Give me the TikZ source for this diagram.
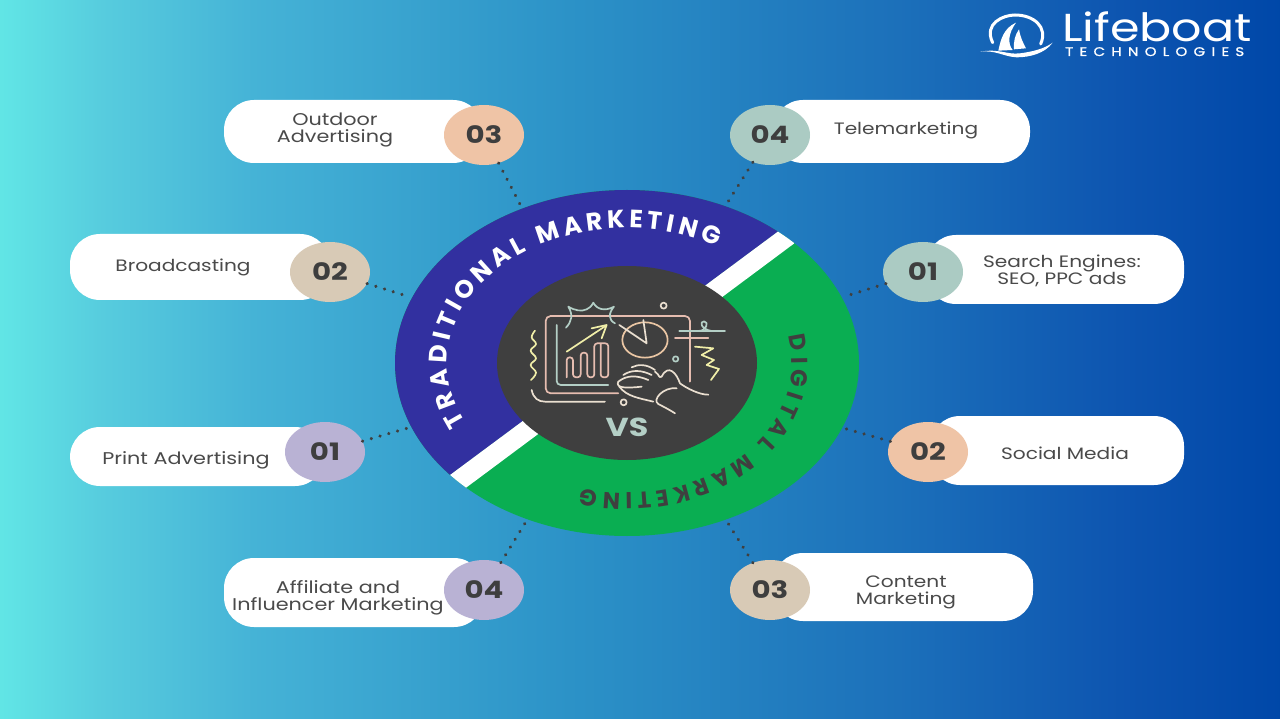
\documentclass[tikz,border=0pt]{standalone}
\usepackage{fontspec}
\usetikzlibrary{shapes.geometric,decorations.text}
\setmainfont[FakeStretch=1.22]{Poppins}
\newfontfamily\logofont[FakeStretch=1.22]{Poppins}
\newfontfamily\logosub[FakeStretch=1.2,LetterSpace=50,FakeBold=1]{Poppins}
\newfontfamily\ringfont[FakeStretch=1.0]{Poppins}
\definecolor{ringblue}{HTML}{3230A0}
\definecolor{ringgreen}{HTML}{0AAE52}
\definecolor{hubgray}{HTML}{3F3F3F}
\definecolor{numtxt}{HTML}{3E3E3E}
\definecolor{lbltxt}{HTML}{4A4A4A}
\definecolor{cpeach}{HTML}{EFC4A6}
\definecolor{ctan}{HTML}{D8CAB6}
\definecolor{cpurple}{HTML}{B9B2D4}
\definecolor{cgreen}{HTML}{ABCBC3}
\definecolor{icpink}{HTML}{E6BDB0}
\definecolor{icgreen}{HTML}{B4CFC6}
\definecolor{icyellow}{HTML}{F0EEA8}
\definecolor{iccream}{HTML}{EADFD0}
\definecolor{icpeach}{HTML}{EAC6A4}
\pgfdeclarehorizontalshading{bgshade}{100bp}{
  rgb(0bp)=(0.38,0.90,0.90);
  rgb(25bp)=(0.38,0.90,0.90);
  rgb(29bp)=(0.34,0.80,0.87);
  rgb(35bp)=(0.27,0.70,0.84);
  rgb(47.5bp)=(0.17,0.57,0.78);
  rgb(60bp)=(0.11,0.44,0.73);
  rgb(69bp)=(0.05,0.33,0.69);
  rgb(75bp)=(0.00,0.28,0.66);
  rgb(100bp)=(0.00,0.28,0.66)}
\tikzset{
  pill/.style={fill=white,rounded corners=30pt},
  lbl/.style={text=lbltxt,font=\fontsize{16.5}{17}\selectfont,align=center,inner sep=0pt},
  lblwide/.style={lbl,font=\fontsize{17}{17}\selectfont},
  num/.style={ellipse,minimum width=80pt,minimum height=60pt,inner sep=0pt,text=numtxt,font=\fontsize{24}{24}\selectfont\bfseries},
  link/.style={draw=hubgray,line width=3.4pt,line cap=round,dash pattern=on 0.1pt off 9pt},
  ic/.style={line width=1.7pt,line cap=round,line join=round}
}
\begin{document}
\begin{tikzpicture}[x=1pt,y=-1pt]
\useasboundingbox (0,0) rectangle (1280,719);
\shade[shading=bgshade] (0,0) rectangle (1280,719);

% ring
\coordinate (hub) at (627,363);
\begin{scope}
  \clip (hub) ellipse [x radius=232pt,y radius=173pt];
  \fill[ringgreen] (390,180) rectangle (870,550);
  \fill[ringblue] (380,170) -- (880,170) -- (796.5,217.8) -- (433.5,487.3) -- (380,540) -- cycle;
  \fill[white] (433.5,487.3) -- (796.5,217.8) -- (812.5,229.8) -- (450.5,499.3) -- cycle;
\end{scope}
\node[ellipse,fill=hubgray,minimum width=260pt,minimum height=194pt,inner sep=0pt] (center) at (hub) {};

% ring texts
\path[postaction={decorate,decoration={text along path,text align={fit to path},
  text={|\ringfont\bfseries\fontsize{25}{25}\selectfont\color{white}|TRADITIONAL MARKETING}}}]
  plot[domain=206:60,samples=80] ({627+180*cos(\x)},{363-135*sin(\x)});
\path[postaction={decorate,decoration={text along path,text align={fit to path},
  text={|\ringfont\bfseries\fontsize{23}{23}\selectfont\color{hubgray}|DIGITAL MARKETING}}}]
  plot[domain=-12:106,samples=80] ({627+165*cos(\x)},{363+130*sin(\x)});

% pills
\fill[pill] (224,100) rectangle (483,163);
\fill[pill] (70,234) rectangle (330,300);
\fill[pill] (70,427) rectangle (325,486);
\fill[pill] (224,558) rectangle (484,627);
\fill[pill] (773,100) rectangle (1030,163);
\fill[pill] (926,235) rectangle (1184,304);
\fill[pill] (930,416) rectangle (1184,485);
\fill[pill] (773,553) rectangle (1033,621);

% labels
\node[lblwide] (t1) at (335,130) {Outdoor\\Advertising};
\node[lbl] (t2) at (183,267) {Broadcasting};
\node[lblwide] (t3) at (186,460) {Print Advertising};
\node[lblwide] (t4) at (338,598) {Affiliate and\\Influencer Marketing};
\node[lbl] (t5) at (906,130) {Telemarketing};
\node[lbl] (t6) at (1062,271) {Search Engines:\\SEO, PPC ads};
\node[lbl] (t7) at (1065,453) {Social Media};
\node[lbl] (t8) at (906,592) {Content\\Marketing};

% number circles
\node[num,fill=cpeach] (n1) at (484,135) {03};
\node[num,fill=ctan] (n2) at (330,272) {02};
\node[num,fill=cpurple] (n3) at (325,452) {01};
\node[num,fill=cpurple] (n4) at (484,590) {04};
\node[num,fill=cgreen] (n5) at (770,135) {04};
\node[num,fill=cgreen] (n6) at (923,272) {01};
\node[num,fill=cpeach] (n7) at (928,452) {02};
\node[num,fill=ctan] (n8) at (770,590) {03};

% ring anchors and dotted connectors
\coordinate (r1) at (522,208);
\coordinate (r2) at (410,297);
\coordinate (r3) at (408,428);
\coordinate (r4) at (527,520);
\coordinate (r5) at (726,205);
\coordinate (r6) at (843,297);
\coordinate (r7) at (843,428);
\coordinate (r8) at (726,520);
\foreach \i in {1,...,8}{\draw[link] (n\i) -- (r\i);}

% VS
\node[text=icgreen,font=\fontsize{26}{26}\selectfont\bfseries,inner sep=0pt] (vs) at (627,427) {VS};

% icon
\begin{scope}[shift={(480,260)},x=0.3333pt,y=-0.3333pt,ic]
  \draw[icpink,rounded corners=5pt] (630,365) -- (630,168) -- (197,168) -- (197,400) -- (415,400);
  \draw[icgreen,rounded corners=4pt] (230,195) -- (230,375) -- (385,375);
  \draw[icpink,rounded corners=3pt] (260,352) -- (260,292) -- (279,292) -- (279,352) -- (302,352) -- (302,278) -- (322,278) -- (322,352) -- (343,352) -- (343,250) -- (385,250) -- (385,352) -- (362,352) -- (362,252);
  \draw[icyellow] (260,275) -- (378,197);
  \draw[icyellow] (335,205) -- (380,195) -- (365,235);
  \draw[icyellow] plot[smooth,tension=.7] coordinates {(165,212) (155,232) (168,252) (152,272) (168,295) (152,315) (168,338) (153,360)};
  \draw[icgreen] (258,203) .. controls (275,185) and (280,165) .. (265,140) .. controls (285,152) and (305,155) .. (320,148) .. controls (328,145) and (335,138) .. (340,128) .. controls (350,148) and (375,155) .. (402,140) .. controls (385,160) and (385,180) .. (405,190);
  \draw[icpeach] (495,240) ellipse [x radius=68,y radius=53];
  \draw[iccream] (418,195) -- (500,250) -- (490,180);
  \draw[iccream] (551,137) circle [radius=9];
  \draw[icgreen] (587,297) circle [radius=8];
  \draw[iccream] (431,427) circle [radius=9];
  \draw[icgreen] (598,213) -- (735,213);
  \draw[icgreen] (655,213) .. controls (680,213) and (688,185) .. (672,184) .. controls (658,184) and (662,208) .. (695,213);
  \draw[icpink] (585,235) -- (685,235);
  \draw[icyellow] (645,260) -- (700,265) -- (665,285) -- (702,300) -- (680,315) -- (717,327) -- (693,360);
  \draw[iccream] (455,322) .. controls (475,312) and (500,312) .. (525,330);
  \draw[iccream] (430,345) .. controls (455,328) and (485,330) .. (515,345);
  \draw[iccream] (415,365) .. controls (440,345) and (470,345) .. (505,360);
  \draw[iccream] (415,365) .. controls (405,385) and (440,385) .. (485,380);
  \draw[iccream] (418,380) .. controls (440,410) and (480,415) .. (520,425);
  \draw[iccream] (525,335) .. controls (540,345) and (535,355) .. (545,350) .. controls (565,310) and (590,340) .. (600,370) .. controls (620,385) and (660,405) .. (685,404);
  \draw[iccream] (590,385) .. controls (550,380) and (515,420) .. (535,432) .. controls (550,440) and (570,450) .. (585,460);
  \draw[iccream] (155,390) .. controls (160,415) and (175,425) .. (195,425) -- (375,425);
\end{scope}

% logo
\begin{scope}[shift={(970,0)},x=0.3333pt,y=-0.3333pt]
  \draw[white,line width=3pt,line cap=round] (68,128) .. controls (40,70) and (100,45) .. (135,45) .. controls (190,45) and (235,80) .. (212,132);
  \fill[white] (85,152) .. controls (92,120) and (100,85) .. (138,68) .. controls (115,100) and (112,130) .. (128,150) -- cycle;
  \fill[white] (132,148) .. controls (130,125) and (135,105) .. (147,88) .. controls (150,110) and (160,130) .. (168,145) -- cycle;
  \fill[white] (30,155) .. controls (90,145) and (110,165) .. (150,160) .. controls (190,155) and (225,145) .. (248,128) .. controls (225,160) and (180,172) .. (140,172) .. controls (100,170) and (80,150) .. (30,155) -- cycle;
\end{scope}
\node[text=white,font=\logofont\fontsize{39}{39}\selectfont,inner sep=0pt,anchor=base west] (logo) at (1062,42) {Lifeboat};
\node[text=white,font=\logosub\fontsize{12.5}{13}\selectfont,inner sep=0pt,anchor=base west] (logosub) at (1065,56) {TECHNOLOGIES};
\end{tikzpicture}
\end{document}
